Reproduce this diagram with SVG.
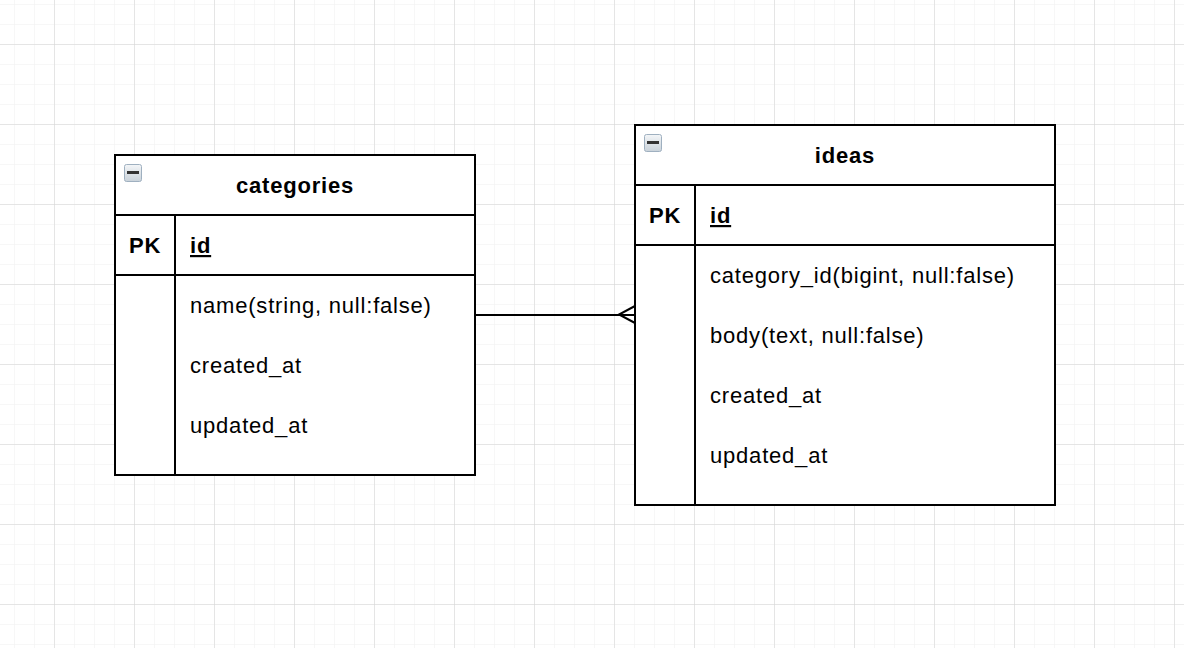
<svg xmlns="http://www.w3.org/2000/svg" width="1184" height="648" viewBox="0 0 1184 648">
  <defs>
    <pattern id="minor" x="14" y="4" width="20" height="20" patternUnits="userSpaceOnUse">
      <path d="M0 0H20M0 0V20" fill="none" stroke="#f0f0f0" stroke-width="1"/>
    </pattern>
    <pattern id="major" x="54" y="44" width="80" height="80" patternUnits="userSpaceOnUse">
      <path d="M0 0H80M0 0V80" fill="none" stroke="#d4d4d4" stroke-width="1"/>
    </pattern>
    <linearGradient id="icon" x1="0" y1="0" x2="0" y2="1">
      <stop offset="0" stop-color="#f4f6f8"/>
      <stop offset="1" stop-color="#c9d2da"/>
    </linearGradient>
  </defs>
  <style>
    .box { fill: #ffffff; stroke: #000000; stroke-width: 2; }
    .ln { stroke: #000000; stroke-width: 2; fill: none; }
    .title { font-family: "Liberation Sans", Arial, sans-serif; font-size: 22px; letter-spacing: 0.8px; font-weight: bold; fill: #000; }
    .pk { font-family: "Liberation Sans", Arial, sans-serif; font-size: 22px; letter-spacing: 0.8px; font-weight: bold; fill: #000; }
    .fld { font-family: "Liberation Sans", Arial, sans-serif; font-size: 22px; letter-spacing: 0.8px; fill: #000; }
    .ico { fill: url(#icon); stroke: #9fb0c0; stroke-width: 1; }
  </style>
  <rect width="1184" height="648" fill="#ffffff"/>
  <rect width="1184" height="648" fill="url(#minor)"/>
  <rect width="1184" height="648" fill="url(#major)"/>

  <g id="connectors">
    <path class="ln" d="M475 315H635"/>
    <path class="ln" d="M635 306L619 314.5L635 323"/>
  </g>

  <g id="categories">
    <rect class="box" x="115" y="155" width="360" height="320"/>
    <path class="ln" d="M115 215H475M115 275H475M175 215V475"/>
    <rect class="ico" x="124.5" y="164.5" width="17" height="17" rx="2"/>
    <rect x="127" y="171" width="12" height="3" fill="#333"/>
    <text class="title" x="295" y="193" text-anchor="middle">categories</text>
    <text class="pk" x="145" y="253" text-anchor="middle">PK</text>
    <text class="pk" x="190" y="253" text-decoration="underline">id</text>
    <text class="fld" x="190" y="313">name(string, null:false)</text>
    <text class="fld" x="190" y="373">created_at</text>
    <text class="fld" x="190" y="433">updated_at</text>
  </g>

  <g id="ideas">
    <rect class="box" x="635" y="125" width="420" height="380"/>
    <path class="ln" d="M635 185H1055M635 245H1055M695 185V505"/>
    <rect class="ico" x="644.5" y="134.5" width="17" height="17" rx="2"/>
    <rect x="647" y="141" width="12" height="3" fill="#333"/>
    <text class="title" x="845" y="163" text-anchor="middle">ideas</text>
    <text class="pk" x="665" y="223" text-anchor="middle">PK</text>
    <text class="pk" x="710" y="223" text-decoration="underline">id</text>
    <text class="fld" x="710" y="283">category_id(bigint, null:false)</text>
    <text class="fld" x="710" y="343">body(text, null:false)</text>
    <text class="fld" x="710" y="403">created_at</text>
    <text class="fld" x="710" y="463">updated_at</text>
  </g>
</svg>
